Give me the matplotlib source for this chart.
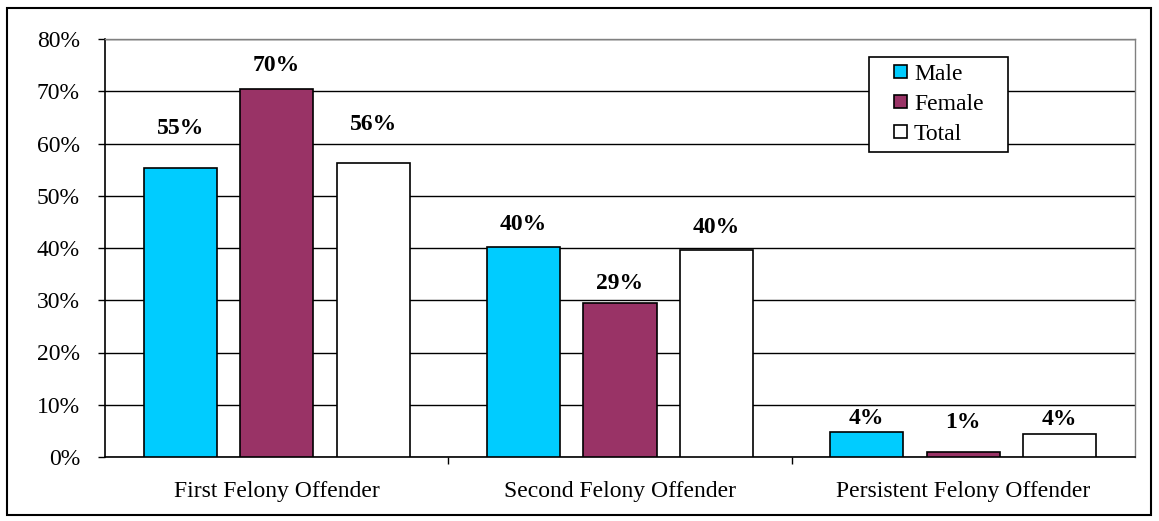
import matplotlib
matplotlib.use("Agg")
import matplotlib.pyplot as plt
import numpy as np
from matplotlib.patches import Rectangle
from matplotlib.legend_handler import HandlerPatch, update_from_first_child
from matplotlib.container import BarContainer

plt.rcParams['font.family'] = ['Liberation Serif', 'DejaVu Serif']

categories = ["First Felony Offender", "Second Felony Offender", "Persistent Felony Offender"]
series_names = ["Male", "Female", "Total"]
male = [55.4, 40.1, 4.7]
female = [70.4, 29.4, 0.9]
total = [56.2, 39.7, 4.4]
labels = [["55%", "40%", "4%"], ["70%", "29%", "1%"], ["56%", "40%", "4%"]]
colors = ["#00CCFF", "#993366", "#FFFFFF"]
# label baseline offsets above bar top, in pixels (style only)
label_offsets_px = [[34, 17, 8], [18, 14, 24], [33, 17, 9]]

W, H = 1159, 521
fig = plt.figure(figsize=(W / 100, H / 100), dpi=100)
fig.patches.append(Rectangle((7 / W, 6 / H), (1151 - 7) / W, (513 - 6) / H, transform=fig.transFigure,
                             fill=False, edgecolor='black', linewidth=1.5, zorder=0))
AX_L, AX_R, AX_T, AX_B = 105, 1135, 39, 457
ax = fig.add_axes([AX_L / W, (H - AX_B) / H, (AX_R - AX_L) / W, (AX_B - AX_T) / H])

x = np.arange(len(categories))
bw = 0.213
step = 0.281
for i, (vals, c) in enumerate(zip([male, female, total], colors)):
    pos = x + (i - 1) * step
    ax.bar(pos, vals, width=bw, color=c, edgecolor='black', linewidth=1.2, zorder=3, label=series_names[i])
    for p, v, lab, off in zip(pos, vals, labels[i], label_offsets_px[i]):
        ax.annotate(lab, (p, v), xytext=(0, off * 0.72), textcoords='offset points', ha='center',
                    va='baseline', fontsize=17, fontweight='bold', zorder=4)

ax.set_xlim(-0.5, 2.5)
ax.set_ylim(0, 80)
ax.set_yticks(np.arange(0, 81, 10))
ax.set_yticklabels([f"{v}%" for v in range(0, 81, 10)], fontsize=17)
ax.yaxis.grid(True, color='black', linewidth=1.0, zorder=0)
ax.set_axisbelow(True)
ax.set_xticks(x)
ax.set_xticklabels(categories, fontsize=17)
ax.tick_params(axis='x', length=0, pad=17.5)
ax.tick_params(axis='y', length=5, direction='out', width=1, pad=13)
ax.set_xticks([0.5, 1.5], minor=True)
ax.tick_params(axis='x', which='minor', length=5, direction='out', width=1)
for s in ['left', 'bottom']:
    ax.spines[s].set_color('black')
    ax.spines[s].set_linewidth(1.2)
for s in ['top', 'right']:
    ax.spines[s].set_color('#808080')
    ax.spines[s].set_linewidth(1.0)

SQ = 9.5  # marker size in points


def square(legend, orig_handle, xdescent, ydescent, width, height, fontsize):
    return Rectangle((-xdescent + width - SQ, -ydescent + (height - SQ) / 2), SQ, SQ)


# legend box in pixels
LG_L, LG_R, LG_T, LG_B = 869, 1008, 57, 152
bx0 = (LG_L - AX_L) / (AX_R - AX_L)
bw_ = (LG_R - LG_L) / (AX_R - AX_L)
by0 = (AX_B - LG_B) / (AX_B - AX_T)
bh_ = (LG_B - LG_T) / (AX_B - AX_T)
leg = ax.legend(loc='upper left', bbox_to_anchor=(bx0, by0, bw_, bh_), mode='expand',
                frameon=True, fancybox=False, edgecolor='black', framealpha=1, fontsize=17,
                handlelength=1.3, handleheight=0.6, handletextpad=0.3, borderpad=0.3, labelspacing=0.38,
                borderaxespad=0,
                handler_map={BarContainer: HandlerPatch(patch_func=square, update_func=update_from_first_child)})
leg.get_frame().set_linewidth(1.2)
leg.set_zorder(5)

fig.savefig("out.png", dpi=100)
